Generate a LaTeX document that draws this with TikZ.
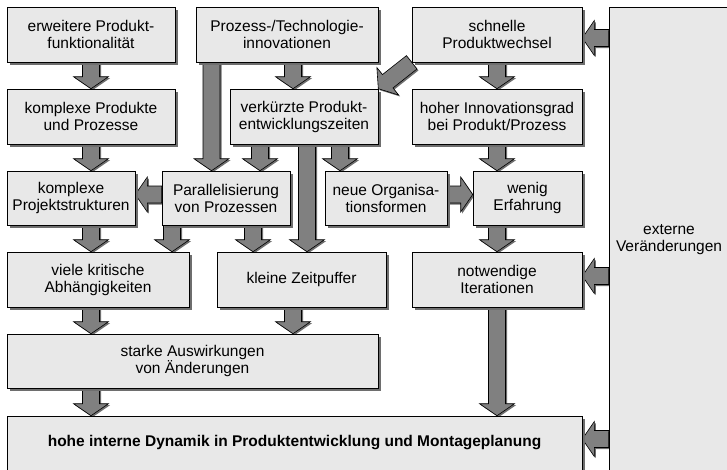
\documentclass[tikz,border=0pt]{standalone}
\usepackage{fontspec}
\setmainfont{Liberation Sans}
\usetikzlibrary{calc,shadows,backgrounds}
\definecolor{boxgray}{HTML}{E8E8E8}
\definecolor{arrowgray}{HTML}{808080}
\definecolor{shadowgray}{HTML}{6E6E6E}
\tikzset{
  box/.style={draw=black, line width=0.6pt, fill=boxgray, align=center, inner sep=0pt,
    font=\fontsize{15.5}{17}\selectfont,
    drop shadow={shadow xshift=2.5pt, shadow yshift=-2.5pt, fill=shadowgray, opacity=1}},
  arrowbody/.style={draw=black, line width=0.6pt, fill=arrowgray,
    drop shadow={shadow xshift=1.5pt, shadow yshift=-1.5pt, fill=shadowgray, opacity=1}}
}
% block arrow from #1 to its tip #2
\newcommand{\blockarrow}[2]{%
  \path (#1) coordinate (ba-s) (#2) coordinate (ba-t);
  \path ($(ba-t)!12pt!(ba-s)$) coordinate (ba-h);
  \filldraw[arrowbody] ($(ba-s)!8.5pt!90:(ba-t)$) -- ($(ba-h)!8.5pt!90:(ba-t)$)
    -- ($(ba-h)!17.5pt!90:(ba-t)$) -- (ba-t) -- ($(ba-h)!17.5pt!-90:(ba-t)$)
    -- ($(ba-h)!8.5pt!-90:(ba-t)$) -- ($(ba-s)!8.5pt!-90:(ba-t)$) -- cycle;}
\begin{document}
\begin{tikzpicture}[x=1pt,y=-1pt]
  \useasboundingbox (0,0) rectangle (727,469);
  % top row
  \node[box, minimum width=168pt, minimum height=55pt] (b1) at (91,34.5) {erweitere Produkt-\\funktionalität};
  \node[box, minimum width=182pt, minimum height=55pt] (b2) at (287,34.5) {Prozess-/Technologie-\\innovationen};
  \node[box, minimum width=170pt, minimum height=55pt] (b3) at (497,34.5) {schnelle\\Produktwechsel};
  % second row
  \node[box, minimum width=168pt, minimum height=55pt] (c1) at (91,116.5) {komplexe Produkte\\und Prozesse};
  \node[box, minimum width=148pt, minimum height=55pt] (c2) at (304,116.5) {verkürzte Produkt-\\entwicklungszeiten};
  \node[box, minimum width=170pt, minimum height=55pt] (c3) at (497,116.5) {hoher Innovationsgrad\\bei Produkt/Prozess};
  % third row
  \node[box, minimum width=128pt, minimum height=54pt] (d1) at (71,198) {komplexe\\Projektstrukturen};
  \node[box, minimum width=128pt, minimum height=54pt] (d2) at (226,198) {Parallelisierung\\von Prozessen};
  \node[box, minimum width=122pt, minimum height=54pt] (d3) at (386,198) {neue Organisa-\\tionsformen};
  \node[box, minimum width=109pt, minimum height=54pt] (d4) at (527.5,198) {wenig\\Erfahrung};
  % fourth row
  \node[box, minimum width=182pt, minimum height=55pt] (e1) at (98,279.5) {viele kritische\\Abhängigkeiten};
  \node[box, minimum width=169pt, minimum height=55pt] (e2) at (301.5,279.5) {kleine Zeitpuffer};
  \node[box, minimum width=170pt, minimum height=55pt] (e3) at (497,279.5) {notwendige\\Iterationen};
  % lower rows
  \node[box, minimum width=371pt, minimum height=54pt] (f1) at (192.5,361) {starke Auswirkungen\\von Änderungen};
  \node[box, minimum width=575pt, minimum height=54pt] (g) at (294.5,443) {\bfseries hohe interne Dynamik in Produktentwicklung und Montageplanung};
  \node[box, minimum width=120pt, minimum height=465pt] (ext) at (669,239.5) {externe\\Veränderungen};
  \begin{scope}[on background layer]
    \fill[white] (0,0) rectangle (727,469);
    \blockarrow{b1.south}{c1.north}
    \blockarrow{b2.south -| 293,0}{c2.north -| 293,0}
    \blockarrow{b3.south}{c3.north}
    \blockarrow{b3.south west}{c2.north east}
    \blockarrow{c1.south}{d1.north -| 91,0}
    \blockarrow{b2.south -| 211.5,0}{d2.north -| 211.5,0}
    \blockarrow{c2.south -| 260,0}{d2.north -| 260,0}
    \blockarrow{c2.south -| 307,0}{e2.north -| 307,0}
    \blockarrow{c2.south -| 340,0}{d3.north -| 340,0}
    \blockarrow{c3.south}{d4.north -| 497,0}
    \blockarrow{d2.west |- 0,194.5}{d1.east |- 0,194.5}
    \blockarrow{d3.east |- 0,194.5}{d4.west |- 0,194.5}
    \blockarrow{d1.south -| 91,0}{e1.north -| 91,0}
    \blockarrow{d2.south -| 172,0}{e1.north -| 172,0}
    \blockarrow{d2.south -| 253,0}{e2.north -| 253,0}
    \blockarrow{d4.south -| 497,0}{e3.north}
    \blockarrow{e1.south -| 91,0}{f1.north -| 91,0}
    \blockarrow{e2.south -| 293,0}{f1.north -| 293,0}
    \blockarrow{e3.south}{g.north -| 497,0}
    \blockarrow{f1.south -| 91,0}{g.north -| 91,0}
    \blockarrow{ext.west |- 0,38}{b3.east |- 0,38}
    \blockarrow{ext.west |- 0,276}{e3.east |- 0,276}
    \blockarrow{ext.west |- 0,439}{g.east |- 0,439}
  \end{scope}
\end{tikzpicture}
\end{document}
